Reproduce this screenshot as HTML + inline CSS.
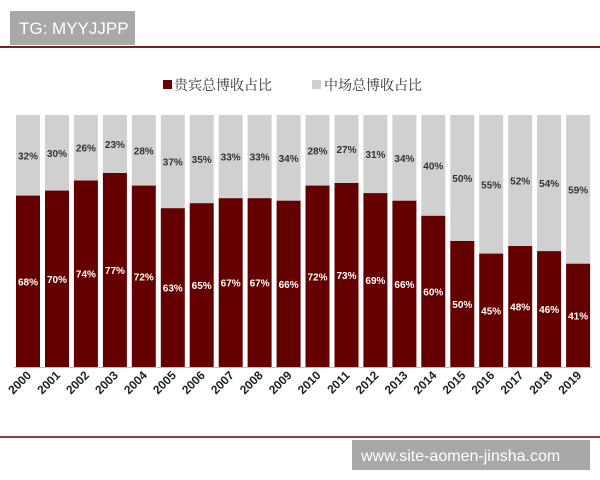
<!DOCTYPE html>
<html><head><meta charset="utf-8"><style>
html,body{margin:0;padding:0;background:#fff;width:600px;height:480px;overflow:hidden}
.g{fill:#d0d0d0}.r{fill:#640000}
.tg{font-size:10px;font-weight:bold;fill:#333;text-anchor:middle}
.tr{font-size:10px;font-weight:bold;fill:#fff;text-anchor:middle}
.y{font-size:12px;font-weight:bold;fill:#222;text-anchor:end}
</style></head><body>
<svg width="600" height="480" xmlns="http://www.w3.org/2000/svg" font-family="Liberation Sans, DejaVu Sans, sans-serif">
<rect x="10" y="11" width="125" height="34" fill="#a8a8a8"/>
<text x="19" y="34" font-size="17" fill="#fff">TG: MYYJJPP</text>
<rect x="0" y="46" width="600" height="2" fill="#7a1f24"/>
<rect x="163" y="80" width="9" height="9" fill="#6a0000"/>
<text x="174" y="90" font-size="14" fill="#333" font-family="Noto Serif CJK SC, serif">贵宾总博收占比</text>
<rect x="312" y="80" width="9" height="9" fill="#cfcfcf"/>
<text x="324" y="90" font-size="14" fill="#333" font-family="Noto Serif CJK SC, serif">中场总博收占比</text>

<g transform="translate(16,0)"><rect class="g" y="115" width="24" height="80.6"/><rect class="r" y="195.6" width="24" height="171.4"/><text class="tg" x="12" y="159.3">32%</text><text class="tr" x="12" y="285.3">68%</text><text class="y" transform="translate(16,376) rotate(-45)">2000</text></g>
<g transform="translate(45,0)"><rect class="g" y="115" width="24" height="75.6"/><rect class="r" y="190.6" width="24" height="176.4"/><text class="tg" x="12" y="156.8">30%</text><text class="tr" x="12" y="282.8">70%</text><text class="y" transform="translate(16,376) rotate(-45)">2001</text></g>
<g transform="translate(73.9,0)"><rect class="g" y="115" width="24" height="65.5"/><rect class="r" y="180.5" width="24" height="186.5"/><text class="tg" x="12" y="151.7">26%</text><text class="tr" x="12" y="277.7">74%</text><text class="y" transform="translate(16,376) rotate(-45)">2002</text></g>
<g transform="translate(102.9,0)"><rect class="g" y="115" width="24" height="58"/><rect class="r" y="173" width="24" height="194"/><text class="tg" x="12" y="148">23%</text><text class="tr" x="12" y="274">77%</text><text class="y" transform="translate(16,376) rotate(-45)">2003</text></g>
<g transform="translate(131.8,0)"><rect class="g" y="115" width="24" height="70.6"/><rect class="r" y="185.6" width="24" height="181.4"/><text class="tg" x="12" y="154.3">28%</text><text class="tr" x="12" y="280.3">72%</text><text class="y" transform="translate(16,376) rotate(-45)">2004</text></g>
<g transform="translate(160.8,0)"><rect class="g" y="115" width="24" height="93.2"/><rect class="r" y="208.2" width="24" height="158.8"/><text class="tg" x="12" y="165.6">37%</text><text class="tr" x="12" y="291.6">63%</text><text class="y" transform="translate(16,376) rotate(-45)">2005</text></g>
<g transform="translate(189.7,0)"><rect class="g" y="115" width="24" height="88.2"/><rect class="r" y="203.2" width="24" height="163.8"/><text class="tg" x="12" y="163.1">35%</text><text class="tr" x="12" y="289.1">65%</text><text class="y" transform="translate(16,376) rotate(-45)">2006</text></g>
<g transform="translate(218.7,0)"><rect class="g" y="115" width="24" height="83.2"/><rect class="r" y="198.2" width="24" height="168.8"/><text class="tg" x="12" y="160.6">33%</text><text class="tr" x="12" y="286.6">67%</text><text class="y" transform="translate(16,376) rotate(-45)">2007</text></g>
<g transform="translate(247.6,0)"><rect class="g" y="115" width="24" height="83.2"/><rect class="r" y="198.2" width="24" height="168.8"/><text class="tg" x="12" y="160.6">33%</text><text class="tr" x="12" y="286.6">67%</text><text class="y" transform="translate(16,376) rotate(-45)">2008</text></g>
<g transform="translate(276.6,0)"><rect class="g" y="115" width="24" height="85.7"/><rect class="r" y="200.7" width="24" height="166.3"/><text class="tg" x="12" y="161.9">34%</text><text class="tr" x="12" y="287.9">66%</text><text class="y" transform="translate(16,376) rotate(-45)">2009</text></g>
<g transform="translate(305.5,0)"><rect class="g" y="115" width="24" height="70.6"/><rect class="r" y="185.6" width="24" height="181.4"/><text class="tg" x="12" y="154.3">28%</text><text class="tr" x="12" y="280.3">72%</text><text class="y" transform="translate(16,376) rotate(-45)">2010</text></g>
<g transform="translate(334.5,0)"><rect class="g" y="115" width="24" height="68"/><rect class="r" y="183" width="24" height="184"/><text class="tg" x="12" y="153">27%</text><text class="tr" x="12" y="279">73%</text><text class="y" transform="translate(16,376) rotate(-45)">2011</text></g>
<g transform="translate(363.4,0)"><rect class="g" y="115" width="24" height="78.1"/><rect class="r" y="193.1" width="24" height="173.9"/><text class="tg" x="12" y="158.1">31%</text><text class="tr" x="12" y="284.1">69%</text><text class="y" transform="translate(16,376) rotate(-45)">2012</text></g>
<g transform="translate(392.4,0)"><rect class="g" y="115" width="24" height="85.7"/><rect class="r" y="200.7" width="24" height="166.3"/><text class="tg" x="12" y="161.9">34%</text><text class="tr" x="12" y="287.9">66%</text><text class="y" transform="translate(16,376) rotate(-45)">2013</text></g>
<g transform="translate(421.3,0)"><rect class="g" y="115" width="24" height="100.8"/><rect class="r" y="215.8" width="24" height="151.2"/><text class="tg" x="12" y="169.4">40%</text><text class="tr" x="12" y="295.4">60%</text><text class="y" transform="translate(16,376) rotate(-45)">2014</text></g>
<g transform="translate(450.3,0)"><rect class="g" y="115" width="24" height="126"/><rect class="r" y="241" width="24" height="126"/><text class="tg" x="12" y="182">50%</text><text class="tr" x="12" y="308">50%</text><text class="y" transform="translate(16,376) rotate(-45)">2015</text></g>
<g transform="translate(479.2,0)"><rect class="g" y="115" width="24" height="138.6"/><rect class="r" y="253.6" width="24" height="113.4"/><text class="tg" x="12" y="188.3">55%</text><text class="tr" x="12" y="314.3">45%</text><text class="y" transform="translate(16,376) rotate(-45)">2016</text></g>
<g transform="translate(508.2,0)"><rect class="g" y="115" width="24" height="131"/><rect class="r" y="246" width="24" height="121"/><text class="tg" x="12" y="184.5">52%</text><text class="tr" x="12" y="310.5">48%</text><text class="y" transform="translate(16,376) rotate(-45)">2017</text></g>
<g transform="translate(537.1,0)"><rect class="g" y="115" width="24" height="136.1"/><rect class="r" y="251.1" width="24" height="115.9"/><text class="tg" x="12" y="187">54%</text><text class="tr" x="12" y="313">46%</text><text class="y" transform="translate(16,376) rotate(-45)">2018</text></g>
<g transform="translate(566.1,0)"><rect class="g" y="115" width="24" height="148.7"/><rect class="r" y="263.7" width="24" height="103.3"/><text class="tg" x="12" y="193.4">59%</text><text class="tr" x="12" y="319.4">41%</text><text class="y" transform="translate(16,376) rotate(-45)">2019</text></g>

<rect x="14" y="367" width="578" height="1" fill="#d9b0b0"/>
<rect x="0" y="436" width="600" height="2" fill="#9a3a3f"/>
<rect x="352" y="440" width="238" height="30" fill="#a8a8a8"/>
<text x="361" y="461" font-size="16" fill="#fff">www.site-aomen-jinsha.com</text>
</svg>
</body></html>
